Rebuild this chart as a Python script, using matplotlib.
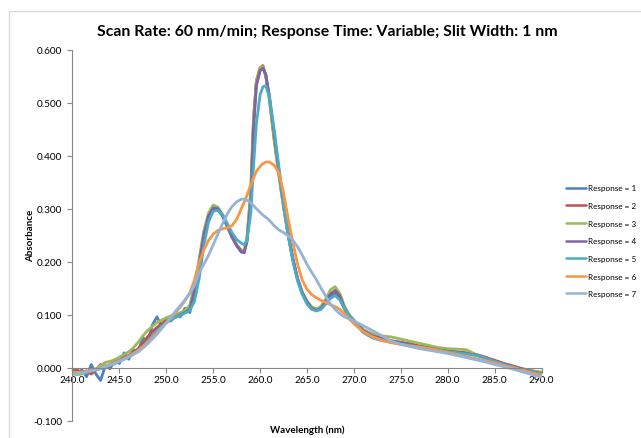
import numpy as np
import matplotlib
matplotlib.use("Agg")
import matplotlib.pyplot as plt
from matplotlib.patches import Rectangle

plt.rcParams["font.family"] = ["Lato", "DejaVu Sans"]

# ---------------------------------------------------------------------------
# Data
# ---------------------------------------------------------------------------

wavelength = [
    240.0, 240.5, 241.0, 241.5, 242.0, 242.5, 243.0, 243.5, 244.0, 244.5,
    245.0, 245.5, 246.0, 246.5, 247.0, 247.5, 248.0, 248.5, 249.0, 249.5,
    250.0, 250.5, 251.0, 251.5, 252.0, 252.5, 253.0,
    253.5, 254.0, 254.5, 255.0, 255.5, 256.0, 256.5, 257.0, 257.5, 258.0,
    258.3, 258.6, 259.0, 259.3, 259.6, 260.0, 260.3, 260.6, 261.0,
    261.5, 262.0, 262.5, 263.0, 263.5, 264.0, 264.5, 265.0, 265.5, 266.0,
    266.5, 267.0, 267.5, 268.0, 268.5, 269.0, 269.5, 270.0,
    271.0, 272.0, 273.0, 274.0, 275.0, 276.0, 277.0, 278.0, 279.0, 280.0,
    281.0, 282.0, 283.0, 284.0, 285.0, 286.0, 287.0, 288.0, 289.0, 290.0,
]

response_1 = [
    -0.010, -0.012, -0.004, -0.017, 0.006, -0.012, -0.024, 0.004, -0.002, 0.014,
    0.008, 0.028, 0.016, 0.034, 0.030, 0.057, 0.046, 0.080, 0.096, 0.078,
    0.094, 0.088, 0.102, 0.096, 0.112, 0.104, 0.140,
    0.195, 0.250, 0.285, 0.300, 0.298, 0.286, 0.266, 0.246, 0.230, 0.218,
    0.218, 0.240, 0.320, 0.460, 0.535, 0.562, 0.568, 0.552, 0.508,
    0.435, 0.368, 0.305, 0.250, 0.203, 0.166, 0.140, 0.123, 0.112, 0.108,
    0.112, 0.124, 0.136, 0.141, 0.130, 0.110, 0.097, 0.088,
    0.069, 0.059, 0.054, 0.050, 0.047, 0.044, 0.040, 0.037, 0.034, 0.031,
    0.029, 0.027, 0.024, 0.019, 0.013, 0.007, 0.002, -0.003, -0.007, -0.011,
]

response_2 = [
    -0.003, -0.004, -0.010, -0.006, -0.012, -0.004, 0.006, 0.000, 0.004, 0.008,
    0.013, 0.018, 0.023, 0.029, 0.036, 0.046, 0.058, 0.068, 0.076, 0.083,
    0.089, 0.094, 0.098, 0.102, 0.106, 0.112, 0.148,
    0.200, 0.254, 0.288, 0.303, 0.300, 0.287, 0.267, 0.247, 0.231, 0.220,
    0.219, 0.243, 0.328, 0.468, 0.540, 0.566, 0.570, 0.552, 0.507,
    0.432, 0.366, 0.304, 0.250, 0.204, 0.167, 0.142, 0.125, 0.113, 0.109,
    0.113, 0.126, 0.140, 0.144, 0.133, 0.112, 0.098, 0.089,
    0.070, 0.060, 0.055, 0.051, 0.048, 0.045, 0.041, 0.038, 0.035, 0.032,
    0.030, 0.028, 0.025, 0.020, 0.014, 0.008, 0.003, -0.002, -0.006, -0.010,
]

response_3 = [
    -0.012, -0.013, -0.012, -0.009, -0.006, -0.002, 0.004, 0.010, 0.012, 0.015,
    0.020, 0.025, 0.030, 0.038, 0.048, 0.060, 0.070, 0.078, 0.085, 0.090,
    0.094, 0.098, 0.100, 0.104, 0.108, 0.118, 0.155,
    0.205, 0.258, 0.292, 0.307, 0.303, 0.289, 0.268, 0.248, 0.232, 0.222,
    0.221, 0.246, 0.334, 0.474, 0.542, 0.566, 0.568, 0.549, 0.503,
    0.428, 0.362, 0.302, 0.248, 0.203, 0.166, 0.142, 0.126, 0.115, 0.111,
    0.116, 0.130, 0.147, 0.153, 0.140, 0.116, 0.100, 0.090,
    0.072, 0.064, 0.060, 0.058, 0.054, 0.050, 0.046, 0.042, 0.038, 0.036,
    0.035, 0.034, 0.025, 0.019, 0.012, 0.006, 0.001, -0.003, -0.006, -0.008,
]

response_4 = [
    -0.008, -0.009, -0.009, -0.008, -0.006, -0.004, -0.001, 0.002, 0.006, 0.010,
    0.014, 0.018, 0.023, 0.028, 0.034, 0.041, 0.050, 0.060, 0.070, 0.078,
    0.085, 0.091, 0.096, 0.100, 0.104, 0.110, 0.145,
    0.195, 0.250, 0.286, 0.301, 0.300, 0.288, 0.268, 0.248, 0.231, 0.219,
    0.217, 0.238, 0.315, 0.452, 0.532, 0.561, 0.565, 0.553, 0.512,
    0.440, 0.372, 0.310, 0.254, 0.206, 0.168, 0.141, 0.124, 0.112, 0.108,
    0.112, 0.125, 0.139, 0.146, 0.135, 0.113, 0.098, 0.088,
    0.070, 0.060, 0.055, 0.050, 0.047, 0.044, 0.040, 0.037, 0.034, 0.031,
    0.029, 0.027, 0.024, 0.019, 0.013, 0.007, 0.002, -0.003, -0.007, -0.011,
]

response_5 = [
    -0.008, -0.009, -0.009, -0.008, -0.006, -0.004, -0.002, 0.001, 0.004, 0.008,
    0.012, 0.016, 0.021, 0.026, 0.032, 0.040, 0.050, 0.060, 0.070, 0.078,
    0.085, 0.090, 0.095, 0.099, 0.103, 0.108, 0.125,
    0.168, 0.230, 0.275, 0.295, 0.297, 0.288, 0.272, 0.255, 0.242, 0.235,
    0.232, 0.240, 0.290, 0.380, 0.460, 0.515, 0.530, 0.532, 0.510,
    0.450, 0.380, 0.310, 0.250, 0.200, 0.163, 0.138, 0.120, 0.110, 0.107,
    0.110, 0.120, 0.131, 0.136, 0.128, 0.112, 0.098, 0.087,
    0.066, 0.056, 0.051, 0.048, 0.045, 0.042, 0.039, 0.036, 0.033, 0.030,
    0.028, 0.026, 0.023, 0.018, 0.012, 0.006, 0.001, -0.004, -0.008, -0.012,
]

response_6 = [
    -0.009, -0.009, -0.008, -0.007, -0.005, -0.003, 0.000, 0.003, 0.006, 0.010,
    0.013, 0.017, 0.022, 0.027, 0.033, 0.040, 0.048, 0.057, 0.066, 0.075,
    0.084, 0.094, 0.104, 0.115, 0.127, 0.141, 0.165,
    0.198, 0.222, 0.240, 0.252, 0.259, 0.262, 0.264, 0.268, 0.280, 0.300,
    0.312, 0.325, 0.345, 0.358, 0.370, 0.380, 0.385, 0.388, 0.388,
    0.382, 0.368, 0.330, 0.280, 0.235, 0.195, 0.165, 0.148, 0.138, 0.132,
    0.127, 0.123, 0.119, 0.115, 0.110, 0.102, 0.092, 0.083,
    0.068, 0.058, 0.052, 0.047, 0.044, 0.041, 0.039, 0.036, 0.033, 0.029,
    0.025, 0.021, 0.017, 0.013, 0.009, 0.004, 0.000, -0.005, -0.010, -0.014,
]

response_7 = [
    -0.011, -0.011, -0.010, -0.008, -0.006, -0.004, -0.001, 0.002, 0.005, 0.008,
    0.012, 0.016, 0.020, 0.025, 0.030, 0.037, 0.045, 0.054, 0.063, 0.074,
    0.085, 0.096, 0.107, 0.117, 0.128, 0.140, 0.155,
    0.180, 0.195, 0.212, 0.232, 0.252, 0.272, 0.290, 0.304, 0.313, 0.318,
    0.318, 0.316, 0.311, 0.306, 0.300, 0.293, 0.288, 0.284, 0.278,
    0.268, 0.260, 0.255, 0.249, 0.240, 0.228, 0.212, 0.195, 0.180, 0.166,
    0.150, 0.135, 0.120, 0.110, 0.102, 0.096, 0.092, 0.088,
    0.079, 0.070, 0.060, 0.050, 0.044, 0.040, 0.036, 0.033, 0.030, 0.027,
    0.023, 0.019, 0.015, 0.011, 0.006, 0.002, -0.003, -0.008, -0.013, -0.018,
]

series = [response_1, response_2, response_3, response_4,
          response_5, response_6, response_7]
labels = [f"Response = {i}" for i in range(1, 8)]
colors = ["#4F81BD", "#C0504D", "#9BBB59", "#8064A2",
          "#4BACC6", "#F79646", "#95B3D7"]

x_ticks = np.arange(240.0, 290.1, 5.0)
y_ticks = np.arange(-0.1, 0.61, 0.1)

###########################################################################
# Figure
###########################################################################

fig = plt.figure(figsize=(6.41, 4.39), dpi=100)

# chart area border (only top / left are inside the picture)
fig.add_artist(
    Rectangle(
        (9 / 641, -0.1),
        1.2,
        1.1 - 11.5 / 439,
        transform=fig.transFigure,
        fill=False,
        edgecolor="#D9D9D9",
        linewidth=1.0,
    )
)

ax = fig.add_axes([0.1131, 0.0394, 0.7317, 0.8451])

for values, label, color in zip(series, labels, colors):
    ax.plot(
        wavelength,
        values,
        color=color,
        linewidth=2.0,
        label=label,
        solid_capstyle="round",
        solid_joinstyle="round",
    )

ax.set_xlim(240.0, 290.0)
ax.set_ylim(-0.1, 0.6)

ax.set_xticks(x_ticks)
ax.set_xticklabels([f"{v:.1f}" for v in x_ticks])
ax.set_yticks(y_ticks)
ax.set_yticklabels([f"{v:.3f}" for v in y_ticks])

for side in ("top", "right"):
    ax.spines[side].set_visible(False)

ax.spines["bottom"].set_position(("data", 0.0))
ax.spines["bottom"].set_bounds(240.0, 290.0)
for side in ("left", "bottom"):
    ax.spines[side].set_color("#868686")
    ax.spines[side].set_linewidth(0.8)

ax.tick_params(
    axis="both",
    direction="out",
    length=3.5,
    width=0.8,
    color="#868686",
    labelsize=7.2,
    labelcolor="black",
)
ax.tick_params(axis="y", pad=4)
ax.tick_params(axis="x", pad=1.5)

fig.text(
    0.511,
    0.927,
    "Scan Rate: 60 nm/min; Response Time: Variable; Slit Width: 1 nm",
    ha="center",
    va="center",
    fontsize=11.4,
    fontweight="bold",
)

fig.text(
    0.047,
    0.4624,
    "Absorbance",
    rotation=90,
    ha="center",
    va="center",
    fontsize=7,
    fontweight="bold",
)

fig.text(
    0.479,
    0.021,
    "Wavelength (nm)",
    ha="center",
    va="center",
    fontsize=7,
    fontweight="bold",
)

legend = fig.legend(
    loc="center left",
    bbox_to_anchor=(0.883, 0.449),
    frameon=False,
    fontsize=5.9,
    handlelength=2.5,
    handletextpad=0.15,
    labelspacing=1.3,
    borderpad=0.0,
    borderaxespad=0.0,
)
for handle in legend.get_lines():
    handle.set_linewidth(1.8)

fig.savefig("out.png", dpi=100)
